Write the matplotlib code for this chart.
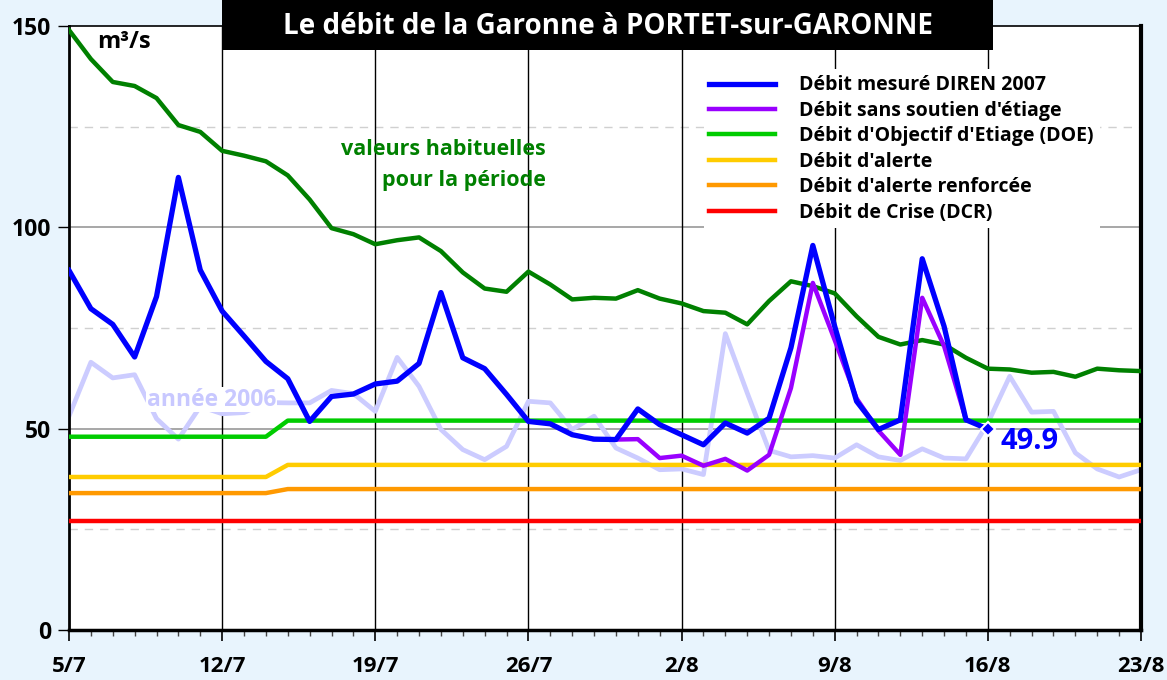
import numpy as np
import pandas as pd
import matplotlib
matplotlib.use("Agg")
import matplotlib.pyplot as plt
from matplotlib.lines import Line2D
from matplotlib.patches import Rectangle

plt.rcParams['font.family'] = ['Open Sans', 'DejaVu Sans']
plt.rcParams['font.weight'] = 'bold'

days = pd.date_range('2007-07-05', '2007-08-23')
tick_labels = ['5/7', '12/7', '19/7', '26/7', '2/8', '9/8', '16/8', '23/8']

# valeurs habituelles (dark green)
habituel = [149, 141.8, 136.1, 135.1, 132.1, 125.4, 123.7, 119, 117.8, 116.4,
            112.9, 106.9, 99.8, 98.3, 95.8, 96.8, 97.5, 94.1, 88.8, 84.8,
            84, 89, 85.8, 82.1, 82.5, 82.3, 84.4, 82.3, 81.1, 79.2,
            78.8, 75.9, 81.7, 86.6, 85.4, 83.6, 77.9, 72.8, 70.9, 72,
            70.9, 67.6, 64.9, 64.7, 63.9, 64.1, 62.9, 64.9, 64.5, 64.3]

# année 2006 (lavender)
annee_2006 = [53.1, 66.5, 62.6, 63.4, 52.5, 47.4, 55.5, 53.7, 54, 56.5,
              56.4, 56.4, 59.5, 58.7, 54.3, 67.7, 60.5, 49.8, 44.8, 42.3,
              45.6, 56.8, 56.4, 49.8, 53.1, 45.2, 42.7, 39.8, 40, 38.6,
              73.6, 58.9, 44.6, 43, 43.3, 42.7, 46, 43, 42.1, 45,
              42.7, 42.5, 51.4, 63, 54.1, 54.3, 44, 40, 38, 39.8]

# débit mesuré DIREN 2007 (5/7 -> 16/8)
mesure = [89.3, 79.8, 75.9, 67.8, 82.8, 112.4, 89.4, 79.2, 73, 66.7,
          62.4, 51.8, 58, 58.6, 61.1, 61.8, 66.2, 83.8, 67.6, 64.9,
          58.5, 51.8, 51.2, 48.5, 47.4, 47.3, 54.9, 51, 48.5, 46,
          51.4, 48.9, 52.6, 70.1, 95.5, 75.4, 56.8, 49.8, 52.2, 92.2,
          75.4, 52.2, 49.9]

# débit sans soutien d'étiage (29/7 -> 15/8)
sans_soutien_start = 24
sans_soutien = [47.4, 47.3, 47.4, 42.7, 43.3, 40.8, 42.5, 39.6, 43.5, 60.1,
                86.2, 72, 57.5, 49.5, 43.5, 82.5, 70.5, 52.2]

doe = [48] * 10 + [52] * 40
alerte = [38] * 10 + [41] * 40
alerte_renf = [34] * 10 + [35] * 40
crise = [27] * 50

last_value = 49.9

fig = plt.figure(figsize=(11.67, 6.8), dpi=100)
fig.patch.set_facecolor('#e8f4fd')
ax = fig.add_axes([69 / 1167, 50 / 680, 1072 / 1167, 604 / 680])
ax.set_facecolor('white')

x = np.arange(len(days))

ax.plot(x, annee_2006, color='#ccccff', lw=3.4, zorder=2, solid_joinstyle='round')
ax.plot(x, habituel, color='#008000', lw=3.2, zorder=3)
ax.plot(x, crise, color='#ff0000', lw=3.2, zorder=4)
ax.plot(x, alerte_renf, color='#ff9900', lw=3.2, zorder=4)
ax.plot(x, alerte, color='#ffcc00', lw=3.2, zorder=4)
ax.plot(x, doe, color='#00cc00', lw=3.2, zorder=4)
xs = np.arange(sans_soutien_start, sans_soutien_start + len(sans_soutien))
ax.plot(xs, sans_soutien, color='#9900ff', lw=3.2, zorder=5)
ax.plot(np.arange(len(mesure)), mesure, color='#0000ff', lw=3.8, zorder=6)
ax.plot(len(mesure) - 1, last_value, marker='D', ms=7, color='#0000ff',
        mec='white', mew=1.5, zorder=7)

ax.set_xlim(0, len(days) - 1)
ax.set_ylim(0, 150)

# grid
for v in [50, 100]:
    ax.axhline(v, color='#a0a0a0', lw=1.3, zorder=1)
for v in [25, 75, 125]:
    ax.axhline(v, color='#d0d0d0', lw=1.0, ls=(0, (6, 5)), zorder=1)
week_pos = x[::7]
for p in week_pos[1:-1]:
    ax.axvline(p, color='black', lw=1.0, zorder=1)

ax.set_xticks(week_pos)
ax.set_xticklabels(tick_labels, fontsize=16, fontweight='bold')
ax.set_xticks(x, minor=True)
ax.tick_params(axis='x', which='major', length=8, width=1.2, pad=11)
ax.tick_params(axis='x', which='minor', length=4, width=1.0, color='#444444')
ax.set_yticks([0, 50, 100, 150])
ax.set_yticklabels(['0', '50', '100', '150'], fontsize=16.5, fontweight='bold')
ax.tick_params(axis='y', length=8, width=1.0, pad=5)

ax.spines['left'].set_linewidth(2)
ax.spines['bottom'].set_linewidth(2.5)
ax.spines['right'].set_linewidth(3)
ax.spines['top'].set_linewidth(1.2)

# texts
ax.text(1.3, 146, 'm³/s', fontsize=17, fontweight='bold', ha='left', va='center')
ax.text(21.8, 119.4, 'valeurs habituelles', fontsize=15.5, fontweight='bold',
        color='#008000', ha='right', va='center')
ax.text(21.8, 111.6, 'pour la période', fontsize=15.5, fontweight='bold',
        color='#008000', ha='right', va='center')
ax.text(6.5, 57.2, 'année 2006', fontsize=16.5, fontweight='bold', color='#c8c8ff',
        ha='center', va='center', zorder=2.5,
        bbox=dict(facecolor='white', edgecolor='none', pad=0.5))
ax.text(42.6, 46.8, '49.9', fontsize=21, fontweight='bold', color='#0000ff',
        ha='left', va='center', zorder=8)

handles = [
    Line2D([], [], color='#0000ff', lw=3.8),
    Line2D([], [], color='#9900ff', lw=3.2),
    Line2D([], [], color='#00cc00', lw=3.2),
    Line2D([], [], color='#ffcc00', lw=3.2),
    Line2D([], [], color='#ff9900', lw=3.2),
    Line2D([], [], color='#ff0000', lw=3.2),
]
labels = ['Débit mesuré DIREN 2007', 'Débit sans soutien d\'étiage',
          'Débit d\'Objectif d\'Etiage (DOE)', 'Débit d\'alerte',
          'Débit d\'alerte renforcée', 'Débit de Crise (DCR)']
leg = ax.legend(handles, labels, loc='upper left', bbox_to_anchor=(0.592, 0.928),
                borderaxespad=0, frameon=True, fancybox=False, framealpha=1,
                facecolor='white', edgecolor='none', prop=dict(size=14, weight='bold'),
                handlelength=3.35, handletextpad=1.28, labelspacing=0.28, borderpad=0.3)
leg.set_zorder(10)

# title box
fig.patches.append(Rectangle((222 / 1167, 630 / 680), (993 - 222) / 1167, 50 / 680,
                             transform=fig.transFigure, facecolor='black',
                             edgecolor='none', zorder=5))
fig.text(608 / 1167, 654 / 680, 'Le débit de la Garonne à PORTET-sur-GARONNE',
         color='white', fontsize=20, fontweight='bold', ha='center', va='center',
         zorder=6)

fig.savefig('out.png', dpi=100, facecolor=fig.get_facecolor())
